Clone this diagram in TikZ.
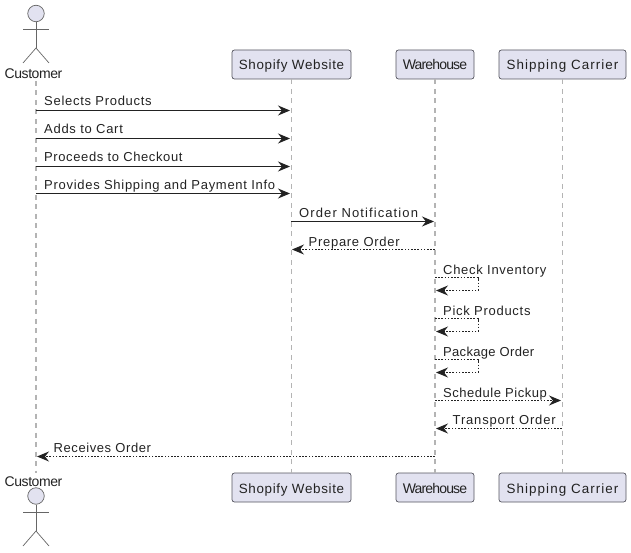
\documentclass[tikz,border=0pt]{standalone}
\usepackage{fontspec}
\setmainfont{Liberation Sans}
\newfontfamily\msgfont[LetterSpace=5.5]{Liberation Sans}
\newfontfamily\boxfont[LetterSpace=5]{Liberation Sans}
\newfontfamily\shipfont[LetterSpace=8]{Liberation Sans}
\newfontfamily\tightfont[LetterSpace=-6]{Liberation Sans}
\newfontfamily\custfont[LetterSpace=-3]{Liberation Sans}
\usetikzlibrary{arrows.meta}
\definecolor{boxfill}{HTML}{E2E2F0}
\definecolor{boxline}{HTML}{55555F}
\definecolor{lifecol}{HTML}{B4B4B4}
\definecolor{ink}{HTML}{222222}
\definecolor{actorline}{HTML}{666666}
\tikzset{
  partbox/.style={draw=boxline,fill=boxfill,rounded corners=2.5pt,line width=.7pt,minimum height=29pt,inner sep=0pt,text=ink,text height=12.5pt,text depth=1.5pt,font=\fontsize{13.4}{15}\selectfont\boxfont},
  shipbox/.style={partbox,font=\fontsize{13.4}{15}\selectfont\shipfont},
  tightbox/.style={partbox,font=\fontsize{14}{15}\selectfont\tightfont},
  lifeline/.style={draw=lifecol,line width=1.4pt,dash pattern=on 5pt off 4.5pt},
  msg/.style={draw=ink,line width=1pt,shorten >=1pt,-{Stealth[length=12pt,width=10pt,inset=4pt]}},
  reply/.style={msg,dash pattern=on 1.6pt off 1.6pt},
  msglabel/.style={anchor=base west,inner sep=0pt,text=ink,font=\fontsize{13}{14}\selectfont\msgfont},
  actorlabel/.style={inner sep=0pt,text=ink,font=\fontsize{14}{15}\selectfont\custfont},
  actorhead/.style={circle,draw=actorline,fill=boxfill,line width=.7pt,minimum size=16.5pt,inner sep=0pt},
  actorbody/.style={draw=actorline,line width=.7pt},
}
\newcommand{\spc}[2]{\addfontfeature{LetterSpace=#1}#2}
\begin{document}
\begin{tikzpicture}[x=1pt,y=1pt]
\useasboundingbox (0,0) rectangle (631,-553);
% participants
\node[actorlabel] (custTop) at (33.5,-73.5) {Customer};
\node[actorlabel] (custBot) at (33.5,-481.5) {Customer};
\node[partbox,minimum width=119pt] (shopTop) at (291.5,-64.5) {Shopify Website};
\node[partbox,minimum width=119pt] (shopBot) at (291.5,-487.5) {Shopify Website};
\node[tightbox,minimum width=78pt] (wareTop) at (435,-64.5) {Warehouse};
\node[tightbox,minimum width=78pt] (wareBot) at (435,-487.5) {Warehouse};
\node[shipbox,minimum width=127pt] (shipTop) at (562.5,-64.5) {Shipping Carrier};
\node[shipbox,minimum width=127pt] (shipBot) at (562.5,-487.5) {Shipping Carrier};
% lifelines
\coordinate (cA) at (36,-81);
\coordinate (cB) at (36,-473);
\draw[lifeline] (cA) -- (cB);
\draw[lifeline] (shopTop.south) -- (shopBot.north);
\draw[lifeline] (wareTop.south) -- (wareBot.north);
\draw[lifeline] (shipTop.south) -- (shipBot.north);
% actors
\node[actorhead] (headTop) at (36,-13.5) {};
\coordinate (hipTop) at (36,-48);
\draw[actorbody] (headTop.south) -- (hipTop);
\draw[actorbody] (23,-29) -- (49,-29);
\draw[actorbody] (23,-63) -- (hipTop) -- (49,-63);
\node[actorhead] (headBot) at (36,-496) {};
\coordinate (hipBot) at (36,-531);
\draw[actorbody] (headBot.south) -- (hipBot);
\draw[actorbody] (23,-512) -- (49,-512);
\draw[actorbody] (23,-546) -- (hipBot) -- (49,-546);
% message anchors
\foreach \n/\y in {1/110.5,2/138.5,3/166.5,4/193.5,5/221.5,6/249.5,7/277.5,8/290.5,9/318.5,10/331.5,11/359.5,12/372.5,13/400.5,14/428.5,15/456.5}{
  \coordinate (c\n) at (36,-\y);
  \coordinate (s\n) at (291,-\y);
  \coordinate (w\n) at (435,-\y);
  \coordinate (p\n) at (562,-\y);
  \coordinate (t\n) at (478,-\y);
}
% messages
\draw[msg] (c1) -- (s1);
\draw[msg] (c2) -- (s2);
\draw[msg] (c3) -- (s3);
\draw[msg] (c4) -- (s4);
\draw[msg] (s5) -- (w5);
\draw[reply] (w6) -- (s6);
\draw[reply] (w7) -- (t7) -- (t8) -- (w8);
\draw[reply] (w9) -- (t9) -- (t10) -- (w10);
\draw[reply] (w11) -- (t11) -- (t12) -- (w12);
\draw[reply] (w13) -- (p13);
\draw[reply] (p14) -- (w14);
\draw[reply] (w15) -- (c15);
% labels
\node[msglabel] at (44,-106) {Selects Products};
\node[msglabel] at (44,-134) {Adds to Cart};
\node[msglabel] at (44,-162) {\spc{4.7}{Proceeds to Checkout}};
\node[msglabel] at (44,-190) {Provides Shipping and Payment Info};
\node[msglabel] at (299,-218) {\spc{8.5}{Order Notification}};
\node[msglabel] at (308.5,-246) {Prepare Order};
\node[msglabel] at (443,-274) {Check Inventory};
\node[msglabel] at (443,-315) {Pick Products};
\node[msglabel] at (443,-356) {\spc{2.5}{Package Order}};
\node[msglabel] at (443,-397) {\spc{4}{Schedule Pickup}};
\node[msglabel] at (452.5,-424) {\spc{6.5}{Transport Order}};
\node[msglabel] at (53.5,-452) {\spc{4.5}{Receives Order}};
\end{tikzpicture}
\end{document}
